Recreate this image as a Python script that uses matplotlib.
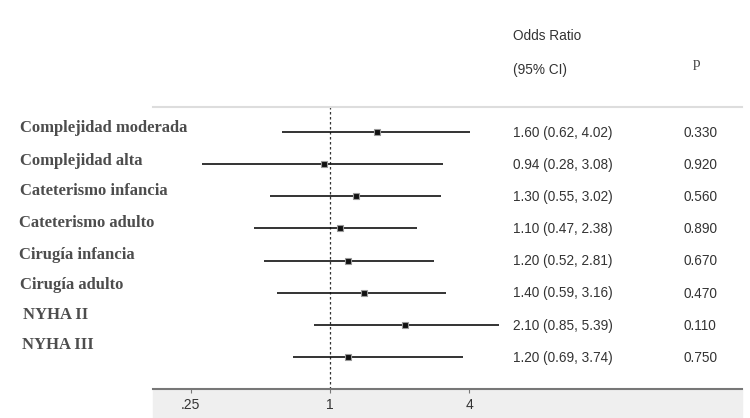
import numpy as np
import matplotlib.pyplot as plt
from matplotlib.patches import Rectangle

# --- Datos ---
variables = ["Complejidad moderada", "Complejidad alta", "Cateterismo infancia",
             "Cateterismo adulto", "Cirugía infancia", "Cirugía adulto",
             "NYHA II", "NYHA III"]
odds = [1.60, 0.94, 1.30, 1.10, 1.20, 1.40, 2.10, 1.20]
ic_inf = [0.62, 0.28, 0.55, 0.47, 0.52, 0.59, 0.85, 0.69]
ic_sup = [4.02, 3.08, 3.02, 2.38, 2.81, 3.16, 5.39, 3.74]
p_val = ["0.330", "0.920", "0.560", "0.890", "0.670", "0.470", "0.110", "0.750"]
ticks = [0.25, 1, 4]
tick_labels = [".25", "1", "4"]

W, H = 750, 418
fig = plt.figure(figsize=(7.5, 4.18), dpi=100)

# banda gris bajo el eje
fig.patches.append(Rectangle((153 / W, 0), (742 - 153) / W, 1 - 389 / H,
                             transform=fig.transFigure, color="#efefef", zorder=0))

# eje del forest plot (en pixeles: x 153-742, y 107-389)
ax = fig.add_axes([153 / W, 1 - 389 / H, (742 - 153) / W, (389 - 107) / H])
ax.set_zorder(2)
ax.set_xscale("log", base=2)
ax.set_xlim(2 ** -2.54, 2 ** 5.91)
ax.set_ylim(8.0, -0.78)

y = np.arange(len(variables))
ax.hlines(y, ic_inf, ic_sup, color="#111111", lw=1.2, zorder=2)
ax.plot(odds, y, "s", color="#111111", ms=4.5, mec="#999999", mew=0.8, zorder=3)
ax.axvline(1, color="#333333", lw=0.9, ls=(0, (2, 2)), zorder=1)

for s in ["left", "right"]:
    ax.spines[s].set_visible(False)
ax.spines["top"].set_color("#dddddd")
ax.spines["top"].set_linewidth(1.5)
ax.spines["bottom"].set_color("#777777")
ax.spines["bottom"].set_linewidth(1.5)
ax.set_yticks([])
ax.minorticks_off()
ax.set_xticks(ticks)
ax.set_xticklabels(tick_labels, family="Liberation Sans", fontsize=10, color="#333333")
ax.tick_params(axis="x", length=3, width=0.8, color="#777777", pad=3.5)
ax.patch.set_alpha(0)

# etiquetas de variables
lab_y = [128, 161, 191, 223, 255, 285, 315, 345]
lab_x = [20, 20, 20, 19, 19, 20, 23, 22]
for nombre, xx, yy in zip(variables, lab_x, lab_y):
    fig.text(xx / W, 1 - yy / H, nombre, family="Liberation Serif", fontsize=12,
             fontweight="bold", color="#4d4d4d", va="center", ha="left")

# columnas de texto
fig.text(513 / W, 1 - 36 / H, "Odds Ratio", family="Liberation Sans", fontsize=9.8,
         color="#333333", va="center")
fig.text(513 / W, 1 - 70 / H, "(95% CI)", family="Liberation Sans", fontsize=9.8,
         color="#333333", va="center")
fig.text(693 / W, 1 - 64 / H, "p", family="Liberation Serif", fontsize=11,
         color="#444444", va="center")
for i in range(len(variables)):
    yy = 133 + 32.1 * i
    fig.text(513 / W, 1 - yy / H, f"{odds[i]:.2f} ({ic_inf[i]:.2f}, {ic_sup[i]:.2f})",
             family="Liberation Sans", fontsize=9.8, color="#333333", va="center")
    fig.text(683 / W, 1 - yy / H, p_val[i], family="Liberation Sans", fontsize=9.8,
             color="#333333", va="center")

fig.savefig("out.png", dpi=100)
